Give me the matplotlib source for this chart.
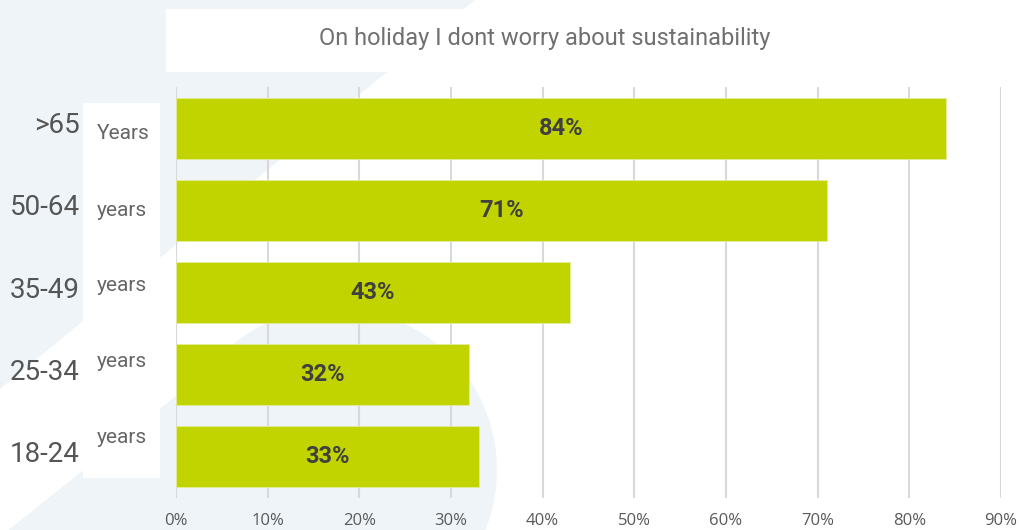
import matplotlib.pyplot as plt
import matplotlib.transforms as mtransforms
from matplotlib.patches import Polygon, Circle, Rectangle
from matplotlib import font_manager

# survey answers per age group
ages = [">65", "50-64", "35-49", "25-34", "18-24"]
units = ["Years", "years", "years", "years", "years"]
share = [84, 71, 43, 32, 33]
xticks = [0, 10, 20, 30, 40, 50, 60, 70, 80, 90]
title = "On holiday I dont worry about sustainability"

BAR = "#c2d400"
PALE = "#eff4f9"
GRID = "#d9d9d9"

installed = {f.name for f in font_manager.fontManager.ttflist}
narrow = "Liberation Sans Narrow" if "Liberation Sans Narrow" in installed else "Open Sans"
plt.rcParams["font.family"] = ["Roboto", "DejaVu Sans"]

W, H = 1021, 530
fig = plt.figure(figsize=(W / 100, H / 100), dpi=100)
fig.patch.set_facecolor("white")

# decorative backdrop, drawn in pixel units
bg = fig.add_axes([0, 0, 1, 1], zorder=0)
bg.set_xlim(0, W)
bg.set_ylim(H, 0)
bg.axis("off")
bg.add_patch(Polygon([(0, 0), (475, 0), (0, 389)], color=PALE, lw=0))
bg.add_patch(Polygon([(8.5, 530), (296, 300), (335, 470), (335, 530)], color=PALE, lw=0))
bg.add_patch(Circle((335, 470), 162, color=PALE, lw=0))
bg.add_patch(Rectangle((166, 9), W - 166, 63, color="white", lw=0))
bg.add_patch(Rectangle((83, 103), 77, 375, color="white", lw=0))
bg.text(545, 38, title, ha="center", va="center", fontsize=17, color="#707070")

ax = fig.add_axes([176 / W, 1 - 498 / H, (1001 - 176) / W, (498 - 87) / H], zorder=1)
ax.patch.set_alpha(0)

y = list(range(len(ages)))
ax.barh(y, share, height=0.74, color=BAR, edgecolor="#e4ec9c", linewidth=0.6, zorder=2)
for i, v in enumerate(share):
    ax.text(v / 2, i, f"{v}%", ha="center", va="center", fontsize=17,
            fontweight="bold", color="#404040", zorder=3)

ax.set_xlim(0, 90)
ax.set_ylim(len(ages) - 0.5, -0.5)
ax.set_xticks(xticks)
ax.set_xticklabels([f"{t}%" for t in xticks], fontfamily=narrow, fontsize=12, color="#595959")
ax.tick_params(axis="x", length=0, pad=11)
ax.set_yticks([])
ax.grid(axis="x", color=GRID, linewidth=1.5, zorder=1)
ax.set_axisbelow(True)
for s in ax.spines.values():
    s.set_visible(False)

# age labels to the left of the plot, x in pixels and y on the category scale
mix = mtransforms.blended_transform_factory(bg.transData, ax.transData)
unit_shift = [0.07, 0.0, -0.08, -0.16, -0.23]
for i, (a, u) in enumerate(zip(ages, units)):
    ax.text(80, i - 0.03, a, transform=mix, ha="right", va="center",
            fontsize=20, color="#555555")
    ax.text(97, i + unit_shift[i], u, transform=mix, ha="left", va="center",
            fontsize=15, color="#666666")

fig.savefig("out.png", dpi=100, facecolor="white")
